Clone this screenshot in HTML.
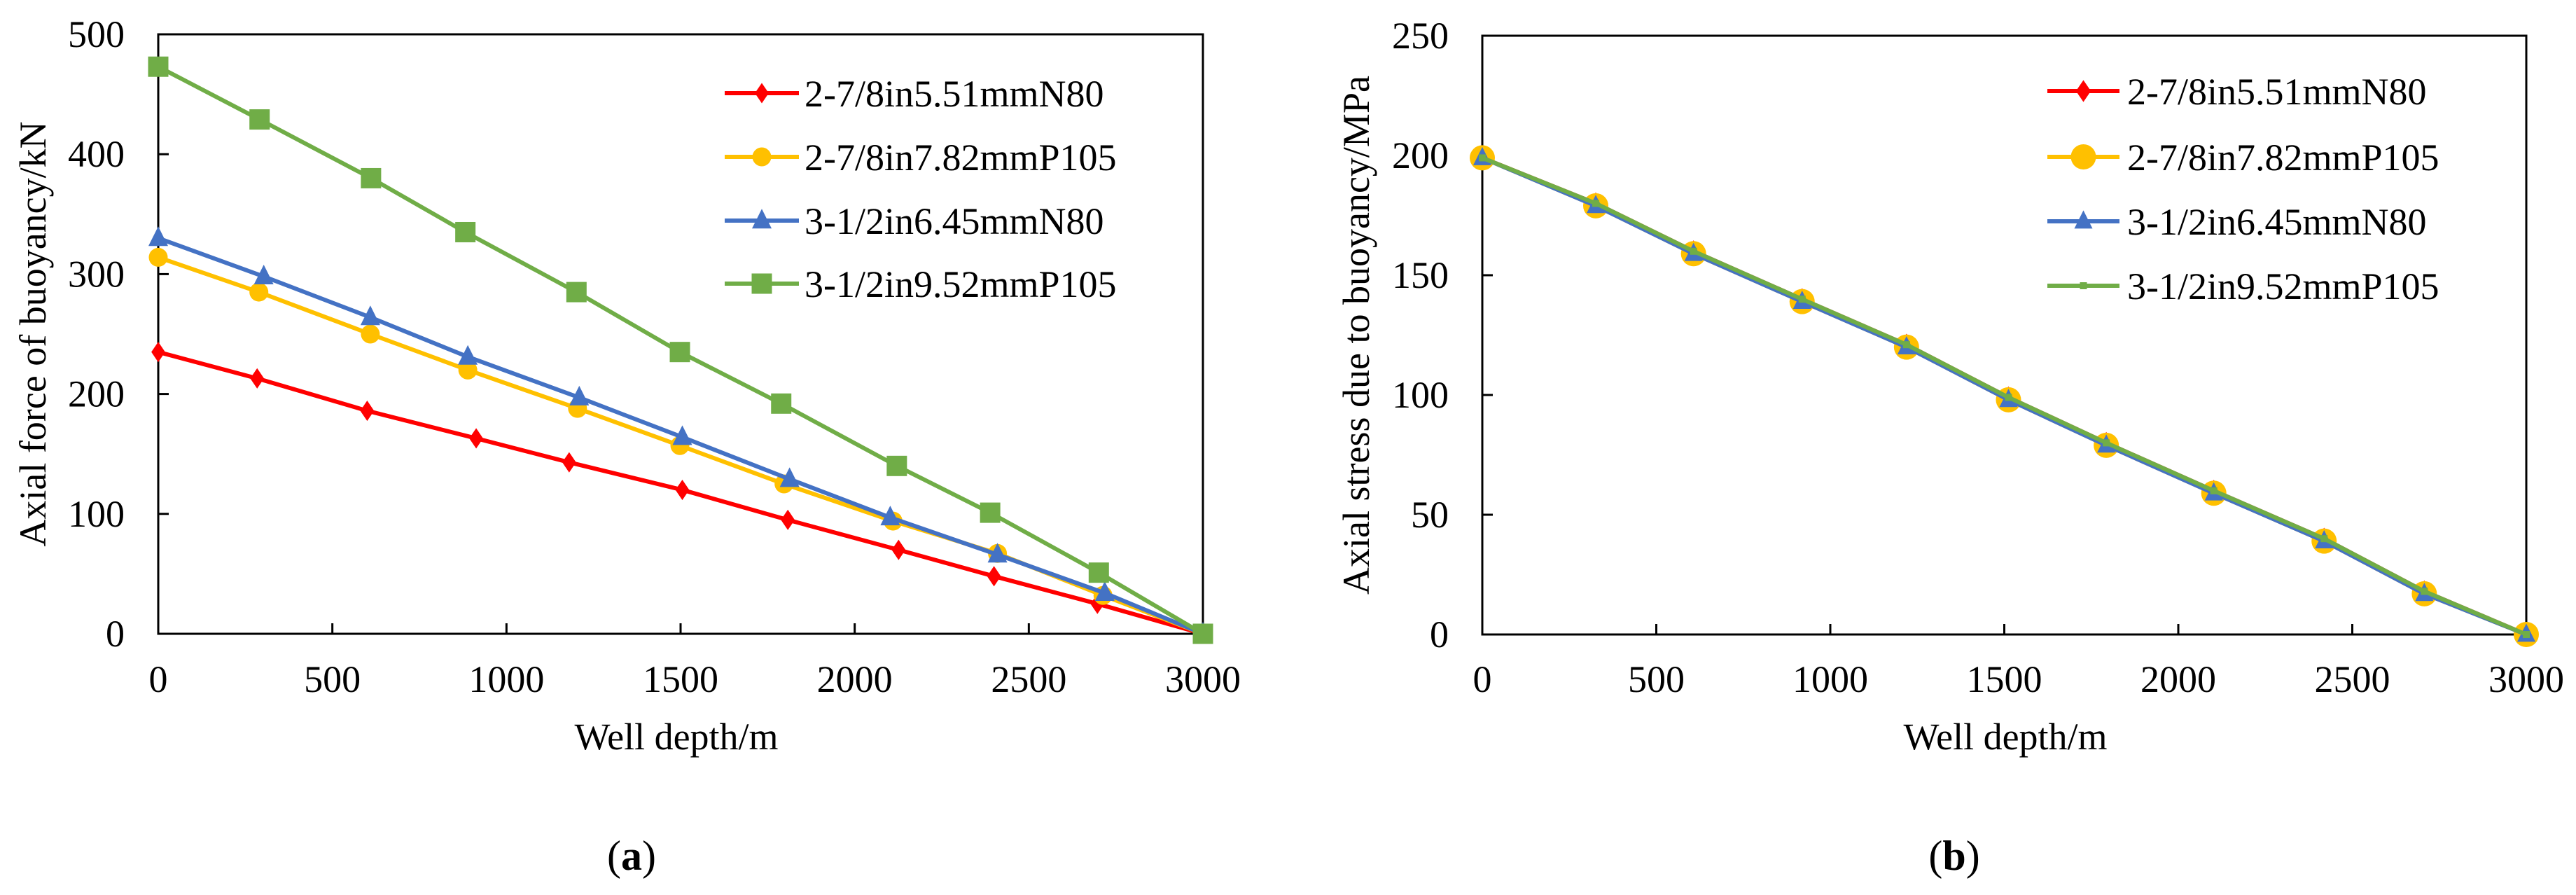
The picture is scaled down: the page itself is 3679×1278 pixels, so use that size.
<!DOCTYPE html>
<html><head><meta charset="utf-8">
<style>
html,body{margin:0;padding:0;background:#fff;}
text{font-family:"Liberation Serif","DejaVu Serif","Times New Roman",serif;fill:#000;}
</style></head>
<body>
<svg id="svg" width="3679" height="1273" viewBox="0 0 3679 1273" xmlns="http://www.w3.org/2000/svg"></svg>
<script>
// Chart (a) data
const depthTicks = [0, 500, 1000, 1500, 2000, 2500, 3000];
const forceTicks = [0, 100, 200, 300, 400, 500];
const stressTicks = [0, 50, 100, 150, 200, 250];
const seriesNames = ["2-7/8in5.51mmN80", "2-7/8in7.82mmP105", "3-1/2in6.45mmN80", "3-1/2in9.52mmP105"];
const aDepthRed = [0, 284, 600, 913, 1180, 1505, 1808, 2126, 2400, 2697, 3000];
const aForceRed = [235, 213, 186, 163, 143, 120, 95, 70, 48, 25, 0];
const aDepthYellow = [0, 289, 609, 889, 1204, 1498, 1797, 2110, 2410, 2713, 3000];
const aForceYellow = [314, 285, 250, 220, 188, 157, 125, 94, 67, 32, 0];
const aDepthBlue = [0, 303, 609, 889, 1209, 1505, 1813, 2102, 2410, 2718, 3000];
const aForceBlue = [330, 298, 264, 231, 197, 164, 129, 97, 66, 34, 0];
const aDepthGreen = [0, 291, 611, 882, 1201, 1498, 1789, 2121, 2389, 2701, 3000];
const aForceGreen = [473, 429, 380, 335, 285, 235, 192, 140, 101, 51, 0];
// Chart (b) data
const bDepth = [0, 326, 607, 919, 1219, 1512, 1793, 2102, 2419, 2707, 3000];
const bStressRed = [199, 180, 160, 140, 121, 99, 80, 60, 40, 18, 0];
const bStressYellow = [199, 179, 159, 139, 120, 98, 79, 59, 39, 17, 0];
const bStressBlue = [199, 179, 159, 139, 120, 98, 79, 59, 39, 17, 0];
const bStressGreen = [199, 180, 160, 140, 121, 99, 80, 60, 40, 18, 0];

const NS = "http://www.w3.org/2000/svg";
const svg = document.getElementById('svg');
const FONT = "'Liberation Serif', 'DejaVu Serif', serif";
function mk(tag, attrs, parent){const e=document.createElementNS(NS,tag);for(const k in attrs)e.setAttribute(k,attrs[k]);if(tag==='text')e.setAttribute('font-family',FONT);(parent||svg).appendChild(e);return e;}
const colors=["#ff0000","#ffc000","#4472c4","#70ad47"];

function marker(g,type,cx,cy,color,size){
  let m;
  if(type==='diamond'){const w=size*0.38,h=size*0.56;m=mk('polygon',{points:`${cx},${cy-h} ${cx+w},${cy} ${cx},${cy+h} ${cx-w},${cy}`,fill:color},g);}
  else if(type==='circle'){m=mk('ellipse',{cx:cx,cy:cy,rx:size/2,ry:size/2,fill:color},g);}
  else if(type==='triangle'){const s=size;m=mk('polygon',{points:`${cx},${cy-s*0.6} ${cx+s*0.5},${cy+s*0.4} ${cx-s*0.5},${cy+s*0.4}`,fill:color},g);}
  else {m=mk('rect',{x:cx-size/2,y:cy-size/2,width:size,height:size,fill:color},g);}
  return m;
}

function chart(cfg){
  const {L,R,T,B,ymax,yticks,yLabelRight,ytitle,ytitleX,xtitleX,capX,capText,series,legend,id}=cfg;
  const xs=d=>L+(d/3000)*(R-L);
  const ys=v=>B-(v/ymax)*(B-T);
  const g=mk('g',{});
  
  
  const frame=mk('rect',{x:L,y:T,width:R-L,height:B-T,fill:'none',stroke:'#000','stroke-width':3},g);
  
  
  depthTicks.forEach(t=>{
    const tk=mk('line',{x1:xs(t),x2:xs(t),y1:B,y2:B-15,stroke:'#000','stroke-width':3},g);
    
    
    const tl=mk('text',{x:xs(t),y:988,'font-size':54,'text-anchor':'middle'},g);tl.textContent=t;
    
    
  });
  yticks.forEach(t=>{
    const tk=mk('line',{x1:L,x2:L+15,y1:ys(t),y2:ys(t),stroke:'#000','stroke-width':3},g);
    
    
    const tl=mk('text',{x:yLabelRight,y:ys(t)+18,'font-size':54,'text-anchor':'end'},g);tl.textContent=t;
    
    
  });
  const xt=mk('text',{x:xtitleX,y:1070,'font-size':54,'text-anchor':'middle'},g);xt.textContent='Well depth/m';
  
  
  const yt=mk('text',{x:0,y:0,'font-size':54,'text-anchor':'middle',transform:`translate(${ytitleX+18},${(T+B)/2}) rotate(-90)`},g);yt.textContent=ytitle;
  
  
  const cap=mk('text',{x:capX,y:1242,'font-size':60,'text-anchor':'middle'},g);
  cap.innerHTML='(<tspan font-weight="bold">'+capText+'</tspan>)';
  
  
  series.forEach((s,i)=>{
    const sg=mk('g',{},g);
    
    
    const pts=s.x.map((d,j)=>xs(d)+','+ys(s.y[j])).join(' ');
    const pl=mk('polyline',{points:pts,fill:'none',stroke:colors[i],'stroke-width':6,'stroke-linejoin':'round'},sg);
    
    
    s.x.forEach((d,j)=>{
      const m=marker(sg,s.type,xs(d),ys(s.y[j]),colors[i],s.size);
      
      
    });
  });
  const lg=mk('g',{},g);
  
  
  legend.rows.forEach((ry,i)=>{
    const eg=mk('g',{},lg);
    
    
    mk('line',{x1:legend.x1,x2:legend.x2,y1:ry,y2:ry,stroke:colors[i],'stroke-width':6},eg);
    marker(eg,series[i].type,(legend.x1+legend.x2)/2,ry,colors[i],series[i].size);
    const t=mk('text',{x:legend.tx,y:ry+19,'font-size':54},eg);t.textContent=seriesNames[i];
  });
}

chart({id:'a',L:226,R:1718,T:49,B:905,ymax:500,yticks:forceTicks,yLabelRight:178,
  ytitle:'Axial force of buoyancy/kN',ytitleX:47,xtitleX:966,capX:902,capText:'a',
  series:[
    {x:aDepthRed,y:aForceRed,type:'diamond',size:26},
    {x:aDepthYellow,y:aForceYellow,type:'circle',size:27},
    {x:aDepthBlue,y:aForceBlue,type:'triangle',size:28},
    {x:aDepthGreen,y:aForceGreen,type:'square',size:29}],
  legend:{x1:1035,x2:1141,tx:1149,rows:[133,224,315,405]}});

chart({id:'b',L:2117,R:3608,T:51,B:906,ymax:250,yticks:stressTicks,yLabelRight:2069,
  ytitle:'Axial stress due to buoyancy/MPa',ytitleX:1937,xtitleX:2864,capX:2791,capText:'b',
  series:[
    {x:bDepth,y:bStressRed,type:'diamond',size:28},
    {x:bDepth,y:bStressYellow,type:'circle',size:36},
    {x:bDepth,y:bStressBlue,type:'triangle',size:26},
    {x:bDepth,y:bStressGreen,type:'square',size:10}],
  legend:{x1:2924,x2:3027,tx:3038,rows:[130,224,316,408]}});
</script>
</body></html>
